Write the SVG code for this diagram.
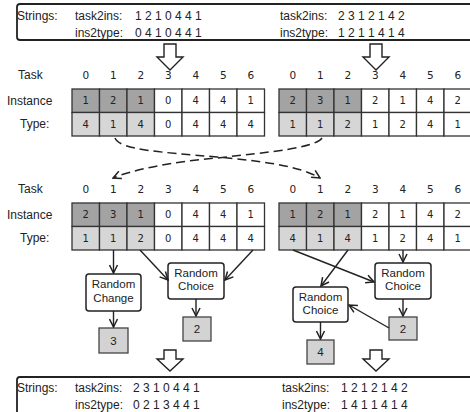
<svg xmlns="http://www.w3.org/2000/svg" width="470" height="412" viewBox="0 0 470 412">
<style>
.lbl{font-family:"Liberation Sans",Arial,sans-serif;font-size:12px;fill:#222}
.num{font-family:"DejaVu Sans",sans-serif;font-size:10px;fill:#222;text-anchor:middle}
.hd{font-family:"DejaVu Sans",sans-serif;font-size:10.5px;fill:#222;text-anchor:middle}
.box{fill:#fff;stroke:#222;stroke-width:1.8}
.dk{fill:#a3a3a3;stroke:#333;stroke-width:1.3}
.lt{fill:#d6d6d6;stroke:#333;stroke-width:1.3}
.wh{fill:#fff;stroke:#333;stroke-width:1.3}
.sq{fill:#d3d3d3;stroke:#444;stroke-width:1.3}
.rc{fill:#fff;stroke:#222;stroke-width:1.5}
.ct{font-family:"Liberation Sans",Arial,sans-serif;font-size:11.5px;fill:#222;text-anchor:middle}
.con{fill:none;stroke:#222;stroke-width:1.4;marker-end:url(#ah)}
.dash{fill:none;stroke:#222;stroke-width:1.5;stroke-dasharray:9,5;marker-end:url(#ah)}
.harrow{fill:#fff;stroke:#222;stroke-width:1.4;stroke-linejoin:miter}
</style>
<defs>
<marker id="ah" viewBox="0 0 10 10" refX="9" refY="5" markerWidth="10" markerHeight="10" markerUnits="userSpaceOnUse" orient="auto">
<path d="M1,1 L9,5 L1,9" fill="none" stroke="#222" stroke-width="1.5"/>
</marker>
</defs>
<rect width="470" height="412" fill="#fff"/>

<g id="strings-top">
<rect class="box" x="17" y="4" width="470" height="36" rx="3"/>
<text class="lbl" x="17" y="20">Strings:</text>
<text class="lbl" x="75" y="20">task2ins:</text>
<text class="lbl" x="135" y="20">1 2 1 0 4 4 1</text>
<text class="lbl" x="75" y="37">ins2type:</text>
<text class="lbl" x="135" y="37">0 4 1 0 4 4 1</text>
<text class="lbl" x="280" y="20">task2ins:</text>
<text class="lbl" x="338" y="20">2 3 1 2 1 4 2</text>
<text class="lbl" x="280" y="37">ins2type:</text>
<text class="lbl" x="338" y="37">1 2 1 1 4 1 4</text>
</g>

<g id="hollow-arrows">
<path class="harrow" d="M164,44 H176 V57 H183 L170,70 L157,57 H164 Z"/>
<path class="harrow" d="M370,44 H382 V57 H389 L376,70 L363,57 H370 Z"/>
<path class="harrow" d="M164,350 H176 V359 H183 L170,371 L157,359 H164 Z"/>
<path class="harrow" d="M370,350 H382 V359 H389 L376,371 L363,359 H370 Z"/>
</g>

<g id="grid1-labels">
<text class="lbl" x="18" y="79">Task</text>
<text class="lbl" x="7" y="104.5">Instance</text>
<text class="lbl" x="20" y="128">Type:</text>
</g>

<g id="grid1-left">
<g class="hd">
<text x="85.75" y="79">0</text><text x="113.25" y="79">1</text><text x="140.75" y="79">2</text><text x="168.25" y="79">3</text><text x="195.75" y="79">4</text><text x="223.25" y="79">5</text><text x="250.75" y="79">6</text>
</g>
<rect class="dk" x="72" y="89" width="27.5" height="23.5"/><rect class="dk" x="99.5" y="89" width="27.5" height="23.5"/><rect class="dk" x="127" y="89" width="27.5" height="23.5"/>
<rect class="wh" x="154.5" y="89" width="27.5" height="23.5"/><rect class="wh" x="182" y="89" width="27.5" height="23.5"/><rect class="wh" x="209.5" y="89" width="27.5" height="23.5"/><rect class="wh" x="237" y="89" width="27.5" height="23.5"/>
<rect class="lt" x="72" y="112.5" width="27.5" height="23.5"/><rect class="lt" x="99.5" y="112.5" width="27.5" height="23.5"/><rect class="lt" x="127" y="112.5" width="27.5" height="23.5"/>
<rect class="wh" x="154.5" y="112.5" width="27.5" height="23.5"/><rect class="wh" x="182" y="112.5" width="27.5" height="23.5"/><rect class="wh" x="209.5" y="112.5" width="27.5" height="23.5"/><rect class="wh" x="237" y="112.5" width="27.5" height="23.5"/>
<g class="num">
<text x="85.75" y="104.4">1</text><text x="113.25" y="104.4">2</text><text x="140.75" y="104.4">1</text><text x="168.25" y="104.4">0</text><text x="195.75" y="104.4">4</text><text x="223.25" y="104.4">4</text><text x="250.75" y="104.4">1</text>
<text x="85.75" y="127.9">4</text><text x="113.25" y="127.9">1</text><text x="140.75" y="127.9">4</text><text x="168.25" y="127.9">0</text><text x="195.75" y="127.9">4</text><text x="223.25" y="127.9">4</text><text x="250.75" y="127.9">4</text>
</g>
</g>

<g id="grid1-right">
<g class="hd">
<text x="292.75" y="79">0</text><text x="320.25" y="79">1</text><text x="347.75" y="79">2</text><text x="375.25" y="79">3</text><text x="402.75" y="79">4</text><text x="430.25" y="79">5</text><text x="457.75" y="79">6</text>
</g>
<rect class="dk" x="279" y="89" width="27.5" height="23.5"/><rect class="dk" x="306.5" y="89" width="27.5" height="23.5"/><rect class="dk" x="334" y="89" width="27.5" height="23.5"/>
<rect class="wh" x="361.5" y="89" width="27.5" height="23.5"/><rect class="wh" x="389" y="89" width="27.5" height="23.5"/><rect class="wh" x="416.5" y="89" width="27.5" height="23.5"/><rect class="wh" x="444" y="89" width="27.5" height="23.5"/>
<rect class="lt" x="279" y="112.5" width="27.5" height="23.5"/><rect class="lt" x="306.5" y="112.5" width="27.5" height="23.5"/><rect class="lt" x="334" y="112.5" width="27.5" height="23.5"/>
<rect class="wh" x="361.5" y="112.5" width="27.5" height="23.5"/><rect class="wh" x="389" y="112.5" width="27.5" height="23.5"/><rect class="wh" x="416.5" y="112.5" width="27.5" height="23.5"/><rect class="wh" x="444" y="112.5" width="27.5" height="23.5"/>
<g class="num">
<text x="292.75" y="104.4">2</text><text x="320.25" y="104.4">3</text><text x="347.75" y="104.4">1</text><text x="375.25" y="104.4">2</text><text x="402.75" y="104.4">1</text><text x="430.25" y="104.4">4</text><text x="457.75" y="104.4">2</text>
<text x="292.75" y="127.9">1</text><text x="320.25" y="127.9">1</text><text x="347.75" y="127.9">2</text><text x="375.25" y="127.9">1</text><text x="402.75" y="127.9">2</text><text x="430.25" y="127.9">4</text><text x="457.75" y="127.9">1</text>
</g>
</g>

<g id="grid2-labels">
<text class="lbl" x="18" y="193">Task</text>
<text class="lbl" x="7" y="218.5">Instance</text>
<text class="lbl" x="20" y="242">Type:</text>
</g>

<g id="grid2-left">
<g class="hd">
<text x="85.75" y="193">0</text><text x="113.25" y="193">1</text><text x="140.75" y="193">2</text><text x="168.25" y="193">3</text><text x="195.75" y="193">4</text><text x="223.25" y="193">5</text><text x="250.75" y="193">6</text>
</g>
<rect class="dk" x="72" y="203" width="27.5" height="23.5"/><rect class="dk" x="99.5" y="203" width="27.5" height="23.5"/><rect class="dk" x="127" y="203" width="27.5" height="23.5"/>
<rect class="wh" x="154.5" y="203" width="27.5" height="23.5"/><rect class="wh" x="182" y="203" width="27.5" height="23.5"/><rect class="wh" x="209.5" y="203" width="27.5" height="23.5"/><rect class="wh" x="237" y="203" width="27.5" height="23.5"/>
<rect class="lt" x="72" y="226.5" width="27.5" height="23.5"/><rect class="lt" x="99.5" y="226.5" width="27.5" height="23.5"/><rect class="lt" x="127" y="226.5" width="27.5" height="23.5"/>
<rect class="wh" x="154.5" y="226.5" width="27.5" height="23.5"/><rect class="wh" x="182" y="226.5" width="27.5" height="23.5"/><rect class="wh" x="209.5" y="226.5" width="27.5" height="23.5"/><rect class="wh" x="237" y="226.5" width="27.5" height="23.5"/>
<g class="num">
<text x="85.75" y="218.4">2</text><text x="113.25" y="218.4">3</text><text x="140.75" y="218.4">1</text><text x="168.25" y="218.4">0</text><text x="195.75" y="218.4">4</text><text x="223.25" y="218.4">4</text><text x="250.75" y="218.4">1</text>
<text x="85.75" y="241.9">1</text><text x="113.25" y="241.9">1</text><text x="140.75" y="241.9">2</text><text x="168.25" y="241.9">0</text><text x="195.75" y="241.9">4</text><text x="223.25" y="241.9">4</text><text x="250.75" y="241.9">4</text>
</g>
</g>

<g id="grid2-right">
<g class="hd">
<text x="292.75" y="193">0</text><text x="320.25" y="193">1</text><text x="347.75" y="193">2</text><text x="375.25" y="193">3</text><text x="402.75" y="193">4</text><text x="430.25" y="193">5</text><text x="457.75" y="193">6</text>
</g>
<rect class="dk" x="279" y="203" width="27.5" height="23.5"/><rect class="dk" x="306.5" y="203" width="27.5" height="23.5"/><rect class="dk" x="334" y="203" width="27.5" height="23.5"/>
<rect class="wh" x="361.5" y="203" width="27.5" height="23.5"/><rect class="wh" x="389" y="203" width="27.5" height="23.5"/><rect class="wh" x="416.5" y="203" width="27.5" height="23.5"/><rect class="wh" x="444" y="203" width="27.5" height="23.5"/>
<rect class="lt" x="279" y="226.5" width="27.5" height="23.5"/><rect class="lt" x="306.5" y="226.5" width="27.5" height="23.5"/><rect class="lt" x="334" y="226.5" width="27.5" height="23.5"/>
<rect class="wh" x="361.5" y="226.5" width="27.5" height="23.5"/><rect class="wh" x="389" y="226.5" width="27.5" height="23.5"/><rect class="wh" x="416.5" y="226.5" width="27.5" height="23.5"/><rect class="wh" x="444" y="226.5" width="27.5" height="23.5"/>
<g class="num">
<text x="292.75" y="218.4">1</text><text x="320.25" y="218.4">2</text><text x="347.75" y="218.4">1</text><text x="375.25" y="218.4">2</text><text x="402.75" y="218.4">1</text><text x="430.25" y="218.4">4</text><text x="457.75" y="218.4">2</text>
<text x="292.75" y="241.9">4</text><text x="320.25" y="241.9">1</text><text x="347.75" y="241.9">4</text><text x="375.25" y="241.9">1</text><text x="402.75" y="241.9">2</text><text x="430.25" y="241.9">4</text><text x="457.75" y="241.9">1</text>
</g>
</g>

<g id="random-change">
<rect class="rc" x="86" y="274" width="55" height="37" rx="3"/>
<text class="ct" x="113.5" y="288">Random</text>
<text class="ct" x="113.5" y="302">Change</text>
</g>
<g id="val-3">
<rect class="sq" x="99" y="328" width="29" height="25"/>
<text class="ct" x="113.5" y="345">3</text>
</g>
<g id="random-choice-left">
<rect class="rc" x="168" y="263" width="56" height="36" rx="3"/>
<text class="ct" x="196" y="277">Random</text>
<text class="ct" x="196" y="290">Choice</text>
</g>
<g id="val-2-left">
<rect class="sq" x="183" y="317" width="28" height="24"/>
<text class="ct" x="197" y="333">2</text>
</g>
<g id="random-choice-upper">
<rect class="rc" x="375" y="263" width="56" height="36" rx="3"/>
<text class="ct" x="403" y="277">Random</text>
<text class="ct" x="403" y="290">Choice</text>
</g>
<g id="val-2-right">
<rect class="sq" x="389" y="317" width="28" height="23"/>
<text class="ct" x="403" y="332.5">2</text>
</g>
<g id="random-choice-lower">
<rect class="rc" x="293" y="287" width="55" height="35" rx="3"/>
<text class="ct" x="320.5" y="301">Random</text>
<text class="ct" x="320.5" y="313.5">Choice</text>
</g>
<g id="val-4">
<rect class="sq" x="307" y="340" width="27" height="24"/>
<text class="ct" x="320.5" y="356">4</text>
</g>

<g id="connectors">
<path class="dash" d="M115,138 C120,150 160,152 217,157 C262,161 300,166 320,178"/>
<path class="dash" d="M322,138 C315,148 270,152 217,158 C170,162 132,170 113,178"/>
<path class="con" d="M113.5,250 V273"/>
<path class="con" d="M113.5,311 V327"/>
<path class="con" d="M140,250 L168,280"/>
<path class="con" d="M253,250 L225,280"/>
<path class="con" d="M196,299 V316"/>
<path class="con" d="M403,250 V262"/>
<path class="con" d="M293,250 L374,282"/>
<path class="con" d="M348,250 L321,286"/>
<path class="con" d="M403,299 V316"/>
<path class="con" d="M389,328 L349,305"/>
<path class="con" d="M320.5,322 V339"/>
</g>

<g id="strings-bottom">
<rect class="box" x="17" y="377" width="470" height="50" rx="3"/>
<text class="lbl" x="17" y="392">Strings:</text>
<text class="lbl" x="75" y="392">task2ins:</text>
<text class="lbl" x="133" y="392">2 3 1 0 4 4 1</text>
<text class="lbl" x="75" y="409">ins2type:</text>
<text class="lbl" x="133" y="409">0 2 1 3 4 4 1</text>
<text class="lbl" x="282" y="392">task2ins:</text>
<text class="lbl" x="341" y="392">1 2 1 2 1 4 2</text>
<text class="lbl" x="282" y="409">ins2type:</text>
<text class="lbl" x="341" y="409">1 4 1 1 4 1 4</text>
</g>
</svg>
